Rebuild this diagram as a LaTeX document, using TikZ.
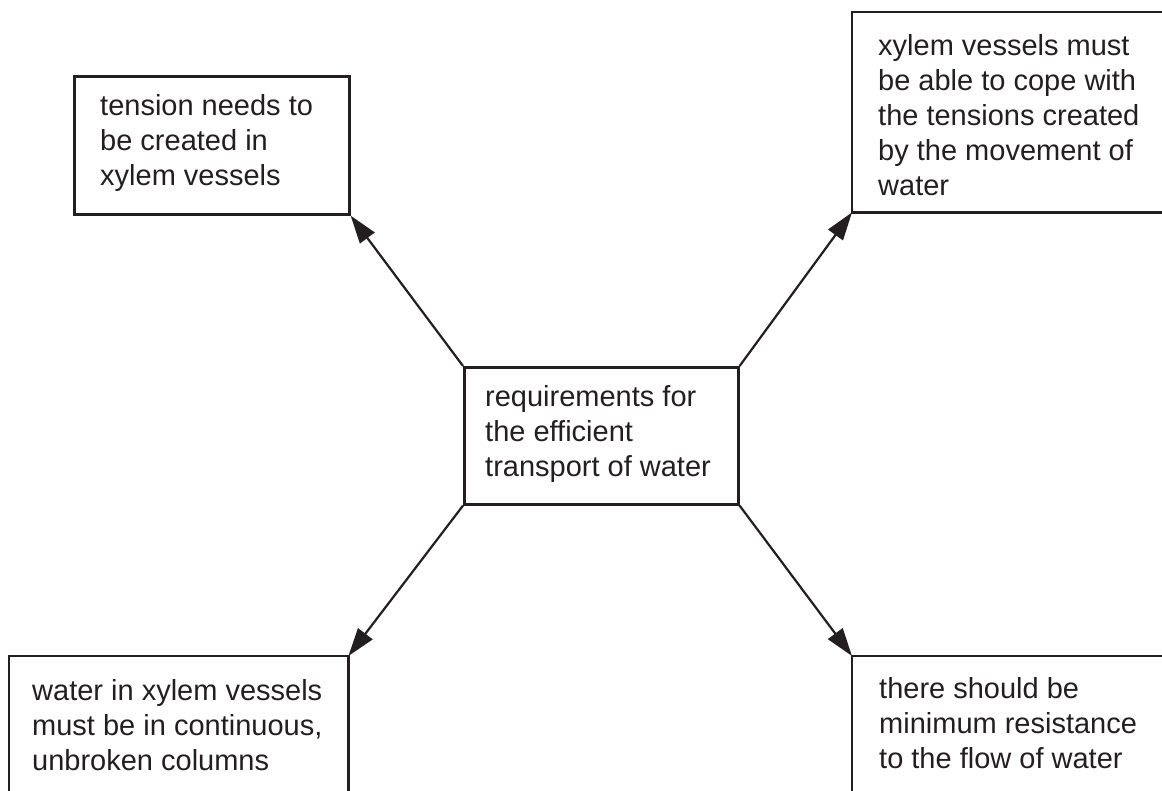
\documentclass[tikz,border=0pt]{standalone}
\usepackage{fontspec}
\setmainfont{Liberation Sans}
\usetikzlibrary{arrows.meta}
\definecolor{ink}{HTML}{231F20}
\begin{document}
\begin{tikzpicture}[x=1pt,y=-1pt,
  boxline/.style={line width=2.6pt, draw=ink},
  shapebox/.style={rectangle, inner sep=0pt, anchor=north west},
  txt/.style={anchor=north west, inner sep=0pt, align=left, font=\fontsize{29}{35}\selectfont, text=ink},
  arr/.style={line width=2.2pt, draw=ink, -{Triangle[length=28pt,width=18pt]}}]
\useasboundingbox (0,0) rectangle (1162,791);
\clip (0,0) rectangle (1162,791);

% boxes
\node[shapebox, boxline, draw, minimum width=275pt, minimum height=138pt] (tl) at (73,75) {};
\node[shapebox, boxline, draw, minimum width=274pt, minimum height=137pt] (c) at (463,366) {};
\node[shapebox, minimum width=330pt, minimum height=200pt] (tr) at (852,12) {};
\node[shapebox, minimum width=339pt, minimum height=150pt] (bl) at (9,656) {};
\node[shapebox, minimum width=330pt, minimum height=150pt] (br) at (852,656) {};

\draw[boxline] (tr.north east) -- (tr.north west) -- (tr.south west) -- (tr.south east);
\draw[boxline] (bl.south west) -- (bl.north west) -- (bl.north east) -- (bl.south east);
\draw[boxline] (br.south west) -- (br.north west) -- (br.north east);

% texts
\node[txt] (tlt) at (100,90.5) {\strut tension needs to\\be created in\\xylem vessels};
\node[txt] (trt) at (878,30.5) {\strut xylem vessels must\\be able to cope with\\the tensions created\\by the movement of\\water};
\node[txt] (ct) at (485,381.5) {\strut requirements for\\the efficient\\transport of water};
\node[txt] (blt) at (32,675.5) {\strut water in xylem vessels\\must be in continuous,\\unbroken columns};
\node[txt] (brt) at (879,673.5) {\strut there should be\\minimum resistance\\to the flow of water};

% connectors
\draw[arr] (c.north west) -- (tl.south east);
\draw[arr] (c.north east) -- (tr.south west);
\draw[arr] (c.south west) -- (bl.north east);
\draw[arr] (c.south east) -- (br.north west);
\end{tikzpicture}
\end{document}
